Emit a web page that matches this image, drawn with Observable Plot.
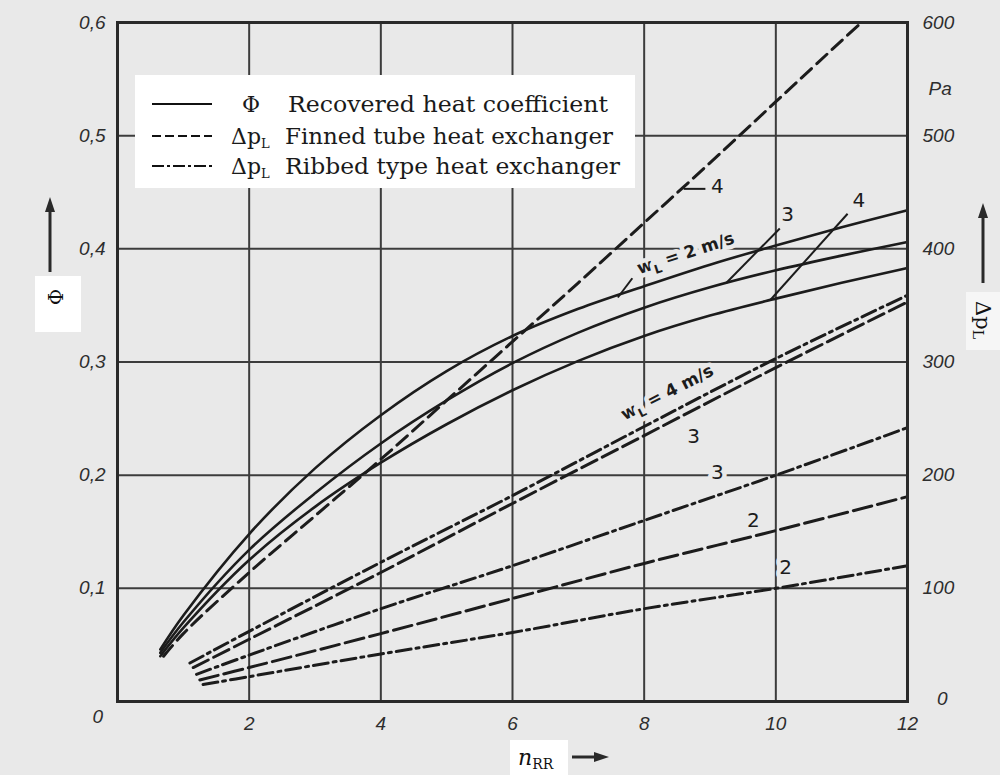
<!DOCTYPE html>
<html>
<head>
<meta charset="utf-8">
<script src="https://cdn.jsdelivr.net/npm/d3@7"></script>
<script src="https://cdn.jsdelivr.net/npm/@observablehq/plot@0.6"></script>
<style>
  html, body { margin: 0; padding: 0; background: #e9e9e9; }
  #figure { position: relative; width: 1000px; height: 775px; overflow: hidden; background: #e9e9e9; }
  #figure > svg { position: absolute; left: 0; top: 0; }
</style>
</head>
<body>
<div id="figure"></div>
<script>
// ---- axis ticks -------------------------------------------------------
const nTicks = [2, 4, 6, 8, 10, 12];          // n_RR
const nGrid = [2, 4, 6, 8, 10];
const phiTicks = [0.1, 0.2, 0.3, 0.4, 0.5, 0.6]; // Φ (left axis)
const phiGrid = [0.1, 0.2, 0.3, 0.4, 0.5];
const paTicks = [100, 200, 300, 400, 500, 600];  // Δp_L in Pa (right axis)

// ---- Φ, recovered heat coefficient, for w_L = 2, 3, 4 m/s ---------------
const phiN  = [0.65, 1, 2, 3, 4, 5, 6, 7, 8, 9, 10, 11, 12];
const phiW2 = [0.046, 0.076, 0.148, 0.206, 0.253, 0.292, 0.323, 0.347, 0.367, 0.386, 0.403, 0.419, 0.434];
const phiW3 = [0.043, 0.070, 0.134, 0.184, 0.228, 0.266, 0.299, 0.326, 0.348, 0.366, 0.381, 0.394, 0.406];
const phiW4 = [0.040, 0.065, 0.125, 0.172, 0.211, 0.245, 0.275, 0.301, 0.323, 0.341, 0.356, 0.370, 0.383];

// ---- Δp_L finned tube heat exchanger (Pa) -------------------------------
const finW4N = [0.7, 1, 2, 3, 4, 5, 6, 7, 8, 9, 10, 11, 11.3];
const finW4  = [40, 60, 114, 164, 214, 266, 318, 370, 423, 476, 530, 584, 600];
const finW3N = [1.15, 2, 4, 6, 8, 10, 12];
const finW3  = [30, 55, 114, 175, 235, 295, 353];
const finW2N = [1.25, 2, 4, 6, 8, 10, 12];
const finW2  = [19, 30, 60, 91, 122, 151, 181];

// ---- Δp_L ribbed type heat exchanger (Pa) -------------------------------
const ribW4N = [1.1, 2, 4, 6, 8, 10, 12];
const ribW4  = [34, 62, 123, 182, 243, 303, 359];
const ribW3N = [1.2, 2, 4, 6, 8, 10, 12];
const ribW3  = [24, 41, 82, 120, 160, 200, 242];
const ribW2N = [1.3, 2, 4, 6, 8, 10, 12];
const ribW2  = [15, 22, 42, 61, 82, 100, 120];

// ---- curve annotations (n, Φ-scale position) -----------------------------
const curveLabels = [
  {n: 9.11, v: 0.455, text: "4"},   // finned, w_L = 4
  {n: 10.18, v: 0.430, text: "3"},  // Φ, w_L = 3
  {n: 11.26, v: 0.443, text: "4"},  // Φ, w_L = 4
  {n: 8.75, v: 0.234, text: "3"},   // finned, w_L = 3
  {n: 9.11, v: 0.202, text: "3"},   // ribbed, w_L = 3
  {n: 9.66, v: 0.160, text: "2"},   // finned, w_L = 2
  {n: 10.15, v: 0.118, text: "2"}   // ribbed, w_L = 2
];
const speedLabels = [
  {n: 8.63, v: 0.396, angle: -18, text: "w_L = 2 m/s"},
  {n: 8.35, v: 0.273, angle: -27, text: "w_L = 4 m/s"}
];
const leaders = [
  {n1: 8.60, v1: 0.453, n2: 8.93, v2: 0.453},
  {n1: 7.60, v1: 0.357, n2: 7.82, v2: 0.374},
  {n1: 10.06, v1: 0.418, n2: 9.25, v2: 0.370},
  {n1: 11.09, v1: 0.431, n2: 9.92, v2: 0.355}
];

// ---- tables for the library -------------------------------------------
const pa = v => v / 1000; // Pa on the shared vertical scale (600 Pa = 0.6)
const series = (ns, vs, scale = d => d) => ns.map((n, i) => ({n, v: scale(vs[i])}));

const BG = "#e9e9e9";
const INK = "#1c1c1c";
const GRID = "#3c3c3c";
const tickFont = {fontFamily: "Liberation Sans, Arial, sans-serif", fontStyle: "italic", fontSize: 19, fill: "#2e2e2e"};
const fmtPhi = d => d.toFixed(1).replace(".", ",");

const solid = {x: "n", y: "v", stroke: INK, strokeWidth: 2.6, curve: "catmull-rom"};
const dashed = {x: "n", y: "v", stroke: INK, strokeWidth: 3, curve: "catmull-rom", strokeDasharray: "17,6"};
const dashDot = {x: "n", y: "v", stroke: INK, strokeWidth: 3, curve: "catmull-rom", strokeDasharray: "15,5,3,5"};

const chart = Plot.plot({
  width: 1000,
  height: 775,
  marginLeft: 117,
  marginRight: 93,
  marginTop: 22,
  marginBottom: 74,
  style: {background: "transparent", color: INK},
  x: {domain: [0, 12], axis: null},
  y: {domain: [0, 0.6], axis: null},
  marks: [
    Plot.gridX(nGrid, {stroke: GRID, strokeOpacity: 1, strokeWidth: 2}),
    Plot.gridY(phiGrid, {stroke: GRID, strokeOpacity: 1, strokeWidth: 2}),

    // curve labels, with a halo that opens the grid behind them
    Plot.text(curveLabels, {x: "n", y: "v", text: "text", fontFamily: "DejaVu Sans, sans-serif", fontSize: 20,
      fill: INK, stroke: BG, strokeWidth: 9, paintOrder: "stroke", strokeLinejoin: "round"}),
    Plot.text(speedLabels, {x: "n", y: "v", text: "text", rotate: "angle", fontFamily: "DejaVu Sans, sans-serif",
      fontSize: 17, fontWeight: "bold", fill: INK, stroke: BG, strokeWidth: 9, paintOrder: "stroke", strokeLinejoin: "round"}),
    Plot.link(leaders, {x1: "n1", y1: "v1", x2: "n2", y2: "v2", stroke: INK, strokeWidth: 2}),

    // Δp_L ribbed type
    Plot.line(series(ribW2N, ribW2, pa), dashDot),
    Plot.line(series(ribW3N, ribW3, pa), dashDot),
    Plot.line(series(ribW4N, ribW4, pa), dashDot),
    // Δp_L finned tube
    Plot.line(series(finW2N, finW2, pa), {...dashed, strokeDasharray: "19,6"}),
    Plot.line(series(finW3N, finW3, pa), dashed),
    Plot.line(series(finW4N, finW4, pa), {...dashed, strokeDasharray: "14,7"}),
    // Φ
    Plot.line(series(phiN, phiW4), solid),
    Plot.line(series(phiN, phiW3), solid),
    Plot.line(series(phiN, phiW2), solid),

    Plot.frame({stroke: "#2a2a2a", strokeWidth: 3}),

    // tick labels
    Plot.text(phiTicks, {y: d => d, frameAnchor: "left", dx: -12, textAnchor: "end", text: fmtPhi, ...tickFont}),
    Plot.text(paTicks, {y: d => pa(d), frameAnchor: "right", dx: 15, textAnchor: "start", text: d => String(d), ...tickFont}),
    Plot.text(nTicks, {x: d => d, frameAnchor: "bottom", dy: 28, text: d => String(d), ...tickFont}),
    Plot.text(["0"], {frameAnchor: "bottom-left", dx: -25, dy: 21, ...tickFont}),
    Plot.text(["0"], {frameAnchor: "bottom-right", dx: 40, dy: 3, ...tickFont}),
    Plot.text(["Pa"], {y: pa(541), frameAnchor: "right", dx: 21, textAnchor: "start", ...tickFont})
  ]
});

// subscript L in the speed labels
d3.select(chart).selectAll("text").each(function () {
  const t = this.textContent;
  if (t.startsWith("w_L")) {
    const el = d3.select(this);
    el.text(null);
    el.append("tspan").text("w");
    el.append("tspan").attr("font-size", 12).attr("dy", 5).text("L");
    el.append("tspan").attr("dy", -5).text(t.slice(3));
  }
});

const fig = document.getElementById("figure");
fig.appendChild(chart);

// ---- titles, arrows and key -----------------------------------------------
const deco = d3.create("svg").attr("width", 1000).attr("height", 775);
const serif = "DejaVu Serif, Liberation Serif, serif";

function arrow(x1, y1, x2, y2) {
  const a = Math.atan2(y2 - y1, x2 - x1), L = 15, W = 5;
  const bx = x2 - L * Math.cos(a), by = y2 - L * Math.sin(a);
  deco.append("line").attr("x1", x1).attr("y1", y1).attr("x2", bx).attr("y2", by)
    .attr("stroke", "#2a2a2a").attr("stroke-width", 3);
  deco.append("path")
    .attr("d", `M${x2},${y2}L${bx - W * Math.sin(a)},${by + W * Math.cos(a)}L${bx + W * Math.sin(a)},${by - W * Math.cos(a)}Z`)
    .attr("fill", "#2a2a2a");
}

// left title Φ
deco.append("rect").attr("x", 35).attr("y", 276).attr("width", 46).attr("height", 56).attr("fill", "#fff");
arrow(50, 272, 50, 197);
deco.append("text").attr("transform", "translate(55,297) rotate(90)")
  .attr("text-anchor", "middle").attr("dominant-baseline", "central")
  .attr("font-family", serif).attr("font-size", 20).attr("fill", "#111").text("Φ");

// right title Δp_L
deco.append("rect").attr("x", 966).attr("y", 292).attr("width", 34).attr("height", 58).attr("fill", "#f6f6f6");
arrow(983, 283, 983, 203);
const dp = deco.append("text").attr("transform", "translate(983,320) rotate(90)")
  .attr("text-anchor", "middle").attr("dominant-baseline", "central")
  .attr("font-family", serif).attr("font-size", 21).attr("fill", "#111");
dp.append("tspan").text("Δp");
dp.append("tspan").attr("font-size", 14).attr("dy", 5).text("L");

// bottom title n_RR
deco.append("rect").attr("x", 510).attr("y", 740).attr("width", 58).attr("height", 35).attr("fill", "#fff");
const nr = deco.append("text").attr("x", 518).attr("y", 765)
  .attr("font-family", serif).attr("font-size", 22).attr("fill", "#111");
nr.append("tspan").attr("font-style", "italic").text("n");
nr.append("tspan").attr("font-size", 14).attr("dy", 4).text("RR");
arrow(572, 757, 609, 757);

// key
deco.append("rect").attr("x", 135).attr("y", 75).attr("width", 500).attr("height", 113).attr("fill", "#fff");
const keyRows = [
  {y: 104, dash: null, sym: "Φ", sub: "", label: "Recovered heat coefficient", x0: 288, x1: 608},
  {y: 136, dash: "9,4", sym: "Δp", sub: "L", label: "Finned tube heat exchanger", x0: 285, x1: 613},
  {y: 166, dash: "12,3,3,3", sym: "Δp", sub: "L", label: "Ribbed type heat exchanger", x0: 285, x1: 620}
];
for (const r of keyRows) {
  deco.append("line").attr("x1", 152).attr("x2", 212).attr("y1", r.y).attr("y2", r.y)
    .attr("stroke", "#111").attr("stroke-width", 2).attr("stroke-dasharray", r.dash);
  const s = deco.append("text").attr("x", r.sub ? 231 : 251).attr("y", r.y + 8)
    .attr("text-anchor", r.sub ? "start" : "middle")
    .attr("font-family", serif).attr("font-size", 22).attr("fill", "#1a1a1a");
  s.append("tspan").text(r.sym);
  if (r.sub) s.append("tspan").attr("font-size", 13).attr("dy", 4).text(r.sub);
  deco.append("text").attr("x", r.x0).attr("y", r.y + 8)
    .attr("font-family", serif).attr("font-size", 23).attr("fill", "#1a1a1a")
    .attr("textLength", r.x1 - r.x0).attr("lengthAdjust", "spacingAndGlyphs")
    .text(r.label);
}

fig.appendChild(deco.node());
</script>
</body>
</html>
